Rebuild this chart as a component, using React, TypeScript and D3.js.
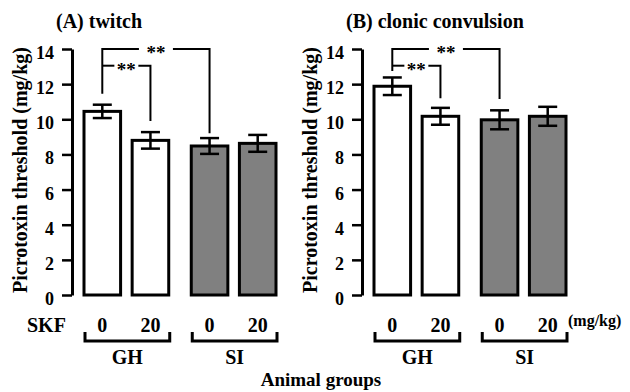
import { useEffect, useRef } from "react";
import * as d3 from "d3";

const groups = ["GH", "SI"];
const doses = ["0", "20"];
const yTicks = [0, 2, 4, 6, 8, 10, 12, 14];
const titles = ["(A) twitch", "(B) clonic convulsion"];

// mean and SEM per bar: GH-0, GH-20, SI-0, SI-20
const twitchMeans = [10.45, 8.8, 8.48, 8.63];
const twitchErrs = [0.38, 0.47, 0.45, 0.48];
const clonicMeans = [11.88, 10.17, 9.97, 10.17];
const clonicErrs = [0.5, 0.48, 0.54, 0.54];

// significance brackets: bars joined, top level and where each leg ends (value units)
const twitchBrackets = [
  { from: 0, to: 2, level: 14, endFrom: 11.45, endTo: 9.2, label: "**" },
  { from: 0, to: 1, level: 13.05, endFrom: null, endTo: 9.9, label: "**" },
];
const clonicBrackets = [
  { from: 0, to: 2, level: 14, endFrom: 12.75, endTo: 11.15, label: "**" },
  { from: 0, to: 1, level: 13.05, endFrom: null, endTo: 11.2, label: "**" },
];

const FONT = "Liberation Serif, DejaVu Serif, Times New Roman, serif";

const App = () => {
  const svgRef = useRef<SVGSVGElement>(null);

  useEffect(() => {
    const svg = d3.select(svgRef.current);
    svg.selectAll("*").remove();

    const y = d3.scaleLinear().domain([0, 14]).range([295, 49]);

    const text = (sel: any, str: string, x: number, yy: number, size: number, anchor = "start") =>
      sel
        .append("text")
        .text(str)
        .attr("x", x)
        .attr("y", yy)
        .style("font-family", FONT)
        .style("font-weight", "bold")
        .style("font-size", size + "px")
        .attr("text-anchor", anchor)
        .attr("fill", "#000");

    const panels = [
      { axisX: 72, title: titles[0], means: twitchMeans, errs: twitchErrs, brackets: twitchBrackets },
      { axisX: 362, title: titles[1], means: clonicMeans, errs: clonicErrs, brackets: clonicBrackets },
    ];

    panels.forEach((p, pi) => {
      const g = svg.append("g");

      // y axis
      const ax = g
        .append("g")
        .attr("transform", `translate(${p.axisX},0)`)
        .call(d3.axisLeft(y).tickValues(yTicks).tickSize(10).tickSizeOuter(0).tickPadding(8));
      ax.select(".domain").attr("stroke-width", 3).attr("stroke", "#000");
      ax.selectAll(".tick line").attr("stroke-width", 2.5).attr("stroke", "#000");
      ax.selectAll(".tick text")
        .style("font-family", FONT)
        .style("font-weight", "bold")
        .style("font-size", "18px")
        .attr("fill", "#000")
        .attr("dy", "0.53em");

      // y label
      text(g, "Picrotoxin threshold (mg/kg)", 0, 0, 20, "middle").attr(
        "transform",
        `translate(${p.axisX - 45},170) rotate(-90)`
      );

      // title
      text(g, p.title, p.axisX - 16, 28, 20);

      const gx = d3
        .scaleBand()
        .domain(groups)
        .range([p.axisX + 12, p.axisX + 204])
        .paddingInner(0.21);
      const dx = d3.scaleBand().domain(doses).range([0, gx.bandwidth()]).paddingInner(0.24);

      const bars = groups.flatMap((grp, gi) =>
        doses.map((d, di) => ({ grp, gi, d, i: gi * 2 + di }))
      );
      const barX = (b: any) => (gx(b.grp) as number) + (dx(b.d) as number);
      const barC = (i: number) => barX(bars[i]) + dx.bandwidth() / 2;

      g.selectAll(".bar")
        .data(bars)
        .enter()
        .append("rect")
        .attr("x", (b) => barX(b))
        .attr("y", (b) => y(p.means[b.i]))
        .attr("width", dx.bandwidth())
        .attr("height", (b) => y(0) - y(p.means[b.i]))
        .attr("fill", (b) => (b.gi === 0 ? "#fff" : "#808080"))
        .attr("stroke", "#000")
        .attr("stroke-width", 3);

      // error bars
      const eb = g.selectAll(".err").data(bars).enter().append("g");
      eb.append("line")
        .attr("x1", (b) => barC(b.i))
        .attr("x2", (b) => barC(b.i))
        .attr("y1", (b) => y(p.means[b.i] - p.errs[b.i]))
        .attr("y2", (b) => y(p.means[b.i] + p.errs[b.i]))
        .attr("stroke", "#000")
        .attr("stroke-width", 2.5);
      [1, -1].forEach((s) => {
        eb.append("line")
          .attr("x1", (b) => barC(b.i) - 9.5)
          .attr("x2", (b) => barC(b.i) + 9.5)
          .attr("y1", (b) => y(p.means[b.i] + s * p.errs[b.i]))
          .attr("y2", (b) => y(p.means[b.i] + s * p.errs[b.i]))
          .attr("stroke", "#000")
          .attr("stroke-width", 2.5);
      });

      // significance brackets
      p.brackets.forEach((br, bi) => {
        const x1 = barC(br.from);
        const x2 = barC(br.to);
        const ly = y(br.level);
        const mid = (x1 + x2) / 2;
        const gap = bi === 0 ? 17 : 12;
        const pts: [number, number][][] = [
          [
            [x1, ly],
            [mid - gap, ly],
          ],
          [
            [mid + gap, ly],
            [x2, ly],
            [x2, y(br.endTo)],
          ],
        ];
        if (br.endFrom !== null) pts[0].unshift([x1, y(br.endFrom)]);
        pts.forEach((pp) =>
          g.append("path")
            .attr("d", d3.line()(pp))
            .attr("fill", "none")
            .attr("stroke", "#000")
            .attr("stroke-width", 2)
        );
        text(g, br.label, mid, ly + 10, 19, "middle");
      });

      // dose labels and group brackets
      bars.forEach((b) => text(g, b.d, barC(b.i), 332, 20, "middle"));
      groups.forEach((grp) => {
        const gs = (gx(grp) as number) + 1;
        const ge = gs + gx.bandwidth();
        g.append("path")
          .attr("d", d3.line()([[gs, 332], [gs, 341], [ge, 341], [ge, 332]]))
          .attr("fill", "none")
          .attr("stroke", "#000")
          .attr("stroke-width", 3);
        text(g, grp, (gs + ge) / 2, 364, 20, "middle");
      });

      if (pi === 0) text(g, "SKF", 27, 332, 20);
      if (pi === 1) text(g, "(mg/kg)", 568, 326, 16);
    });

    text(svg, "Animal groups", 321, 386, 19, "middle");
  }, []);

  return (
    <svg
      ref={svgRef}
      width={630}
      height={392}
      style={{ position: "absolute", left: 0, top: 0, background: "#fff" }}
    />
  );
};

export default App;
